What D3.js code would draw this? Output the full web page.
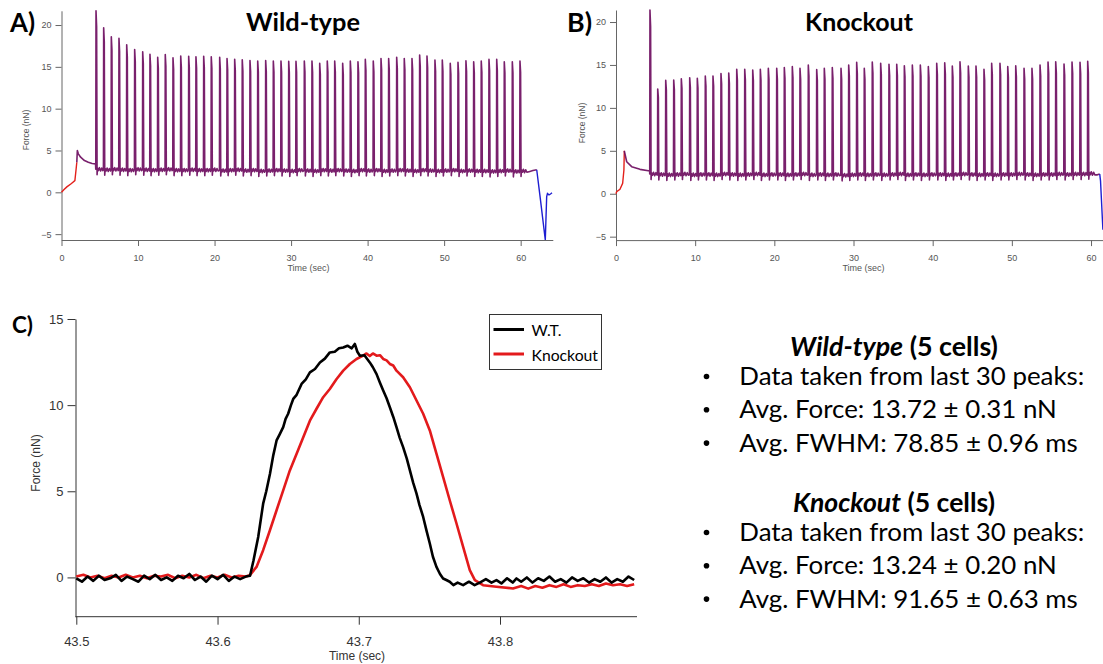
<!DOCTYPE html>
<html>
<head>
<meta charset="utf-8">
<script src="https://cdn.jsdelivr.net/npm/d3@7"></script>
<style>
  body { margin: 0; background: #fff; }
  svg { display: block; }
</style>
</head>
<body>
<svg id="fig" width="1103" height="664"></svg>
<script>
// ---------- Panel A (wild-type) : paced contraction trace ----------
// stimulus peak times (s) and peak force (nN) for each beat
const peakTimesA = [4.51,5.51,6.51,7.51,8.52,9.56,10.61,11.56,12.57,13.56,14.57,15.58,16.62,17.57,
  18.58,19.57,20.67,21.63,22.63,23.62,24.63,25.64,26.68,27.68,28.68,29.69,30.64,
  31.73,32.73,33.74,34.73,35.70,36.74,37.74,38.74,39.70,40.74,41.75,42.75,43.80,44.79,
  45.80,46.80,47.76,48.80,49.76,50.80,51.81,52.85,53.86,54.85,55.86,56.87,57.86,58.91,59.91];
const peakForceA = [21.7,19.68,18.6,18.4,17.65,17.06,16.8,16.5,16.15,16.46,16.07,16.3,16.27,16.2,
  16.27,16.2,16.15,16.0,15.9,15.85,15.75,15.7,15.75,15.7,15.7,15.65,15.65,
  15.69,15.69,15.41,15.69,15.69,15.41,15.69,15.61,15.89,15.69,16.0,16.0,16.14,16.0,
  16.0,16.41,16.29,15.81,15.81,15.41,15.53,15.73,15.61,15.69,15.89,15.89,15.61,15.61,15.69];
// resting force between beats (nN)
const restForceA = [2.6,2.55,2.6,2.55,2.5,2.6,2.55,2.5,2.55,2.6,2.5,2.5,2.55,2.5,
  2.5,2.55,2.45,2.5,2.55,2.45,2.5,2.4,2.45,2.5,2.45,2.4,2.5,2.45,
  2.4,2.5,2.45,2.5,2.45,2.4,2.5,2.45,2.5,2.4,2.45,2.5,2.45,2.4,
  2.5,2.45,2.4,2.45,2.5,2.4,2.45,2.4,2.4,2.35,2.4,2.45,2.35,2.4];
// approach phase (red), pre-stimulus hold (purple), trailing rest and release (blue)
const approachA = [[0,0],[0.3,0.3],[0.7,0.65],[1.3,1.05],[1.75,1.4],[1.9,2.7],[2.0,3.6]];
const holdA = [[2.0,3.6],[2.07,5.0],[2.2,4.6],[2.5,4.2],[3.0,3.8],[3.5,3.6],[4.0,3.45],[4.45,3.4]];
const tailA = [[61.2,2.5],[61.6,2.6],[62.1,2.7]];
const releaseA = [[62.1,2.7],[62.6,-1.0],[63.22,-5.7],[63.4,-0.5],[63.5,-0.15],[63.7,-0.3],[63.9,-0.2],[64.1,-0.05]];

// ---------- Panel B (knockout) ----------
const peakTimesB = [4.29,5.27,6.28,7.29,8.25,9.31,10.27,11.28,12.25,13.26,14.24,15.25,16.26,17.27,
  18.23,19.24,20.30,21.26,22.27,23.24,24.29,25.35,26.31,27.32,28.42,29.39,30.40,
  31.36,32.37,33.43,34.48,35.46,36.42,37.43,38.44,39.45,40.51,41.52,42.48,43.45,44.50,
  45.47,46.48,47.45,48.50,49.48,50.49,51.54,52.54,53.56,54.57,55.54,56.59,57.60,58.61,59.58];
const peakForceB = [21.4,12.2,13.2,13.25,13.4,13.5,13.45,13.7,13.7,14.0,14.05,14.5,14.5,14.4,
  14.5,14.6,14.6,14.7,14.8,14.6,15.0,14.45,14.6,14.7,14.6,15.0,15.3,
  14.6,15.34,15.19,15.07,15.07,14.91,14.99,14.99,14.8,15.19,15.26,14.87,15.38,14.87,
  14.87,14.49,15.19,15.19,14.8,14.91,14.6,14.6,14.99,15.34,15.38,15.11,15.34,15.3,15.42];
const restForceB = [2.15,2.1,2.05,2.1,2.15,2.05,2.1,2.1,2.05,2.15,2.1,2.05,2.1,2.15,
  2.05,2.1,2.1,2.05,2.1,2.15,2.05,2.1,2.05,2.1,2.0,2.05,2.1,2.05,
  2.1,2.05,2.1,2.15,2.05,2.1,2.05,2.1,2.1,2.05,2.1,2.15,2.1,2.05,
  2.1,2.05,2.1,2.1,2.15,2.1,2.05,2.1,2.1,2.15,2.1,2.15,2.15,2.2];
const approachB = [[0,0],[0.08,0.23],[0.5,0.51],[0.84,1.21],[1.0,2.76],[1.05,5.0]];
const holdB = [[1.05,5.0],[1.35,3.73],[1.98,3.15],[3.03,2.84],[4.08,2.68],[4.25,2.65]];
const tailB = [[60.8,2.2],[61.1,2.3]];
const releaseB = [[61.1,2.3],[61.2,1.5],[61.5,-4.2]];

// typical shape of one beat around its peak: [time offset (s), force offset from rest (nN)]
const beatLead = [-0.03, 0.15];
const beatFall = [0.08, 0.9];          // time offset, fraction of the peak height
const beatRelax = [[0.14,-0.5],[0.2,0.3],[0.32,0.0],[0.45,0.35],[0.6,-0.05],[0.75,0.3],[0.9,0.0]];

// ---------- Panel C : single twitch, 43.5 - 43.9 s ----------
const twitchWT = [
  [43.500,-0.05],[43.504,-0.25],[43.508,0.05],[43.512,-0.2],[43.516,0.1],[43.520,-0.15],[43.524,-0.05],
  [43.528,0.15],[43.532,-0.2],[43.536,0.05],[43.540,-0.1],[43.544,-0.25],[43.548,0.1],[43.552,-0.1],
  [43.556,0.15],[43.560,-0.15],[43.564,0.0],[43.568,-0.2],[43.572,0.1],[43.576,-0.05],[43.580,0.2],
  [43.584,-0.15],[43.588,0.05],[43.592,-0.25],[43.596,0.1],[43.600,-0.1],[43.604,0.15],[43.608,-0.2],
  [43.612,0.05],[43.616,-0.1],[43.620,0.05],[43.623,0.1],
  [43.6255,1.0],[43.6288,2.35],[43.6323,4.28],[43.6345,5.0],[43.6371,6.0],[43.6395,7.1],[43.6418,7.95],
  [43.6440,8.3],[43.6465,8.72],[43.6482,9.2],[43.6500,9.5],[43.6520,10.0],[43.6536,10.36],[43.6560,10.6],
  [43.6595,11.23],[43.6625,11.5],[43.6654,11.9],[43.6690,12.1],[43.6725,12.48],[43.6760,12.7],
  [43.6795,13.06],[43.6830,13.1],[43.6860,13.3],[43.6890,13.35],[43.6920,13.45],[43.6950,13.3],
  [43.6972,13.55],[43.6990,13.1],[43.7008,12.87],[43.7040,12.9],[43.7078,12.48],[43.7100,12.2],
  [43.7126,11.8],[43.7150,11.3],[43.7173,10.85],[43.7197,10.4],[43.7220,9.88],[43.7245,9.3],
  [43.7267,8.72],[43.7290,8.1],[43.7314,7.56],[43.7340,6.9],[43.7362,6.21],[43.7385,5.5],[43.7409,4.86],
  [43.7430,4.2],[43.7456,3.51],[43.7480,2.7],[43.7503,1.97],[43.7525,1.2],[43.7550,0.61],[43.7575,0.2],
  [43.7597,-0.06],[43.7620,-0.15],[43.7644,-0.25],[43.7670,-0.45],[43.7700,-0.3],[43.7739,-0.45],
  [43.7780,-0.25],[43.7820,-0.45],[43.7857,-0.3],[43.7900,-0.1],[43.7940,-0.3],[43.7975,-0.16],
  [43.8010,-0.35],[43.8050,-0.05],[43.8090,-0.3],[43.8117,-0.06],[43.8150,-0.25],[43.819,0.0],
  [43.823,-0.3],[43.827,-0.05],[43.831,-0.2],[43.835,0.05],[43.839,-0.25],[43.843,-0.1],[43.847,-0.3],
  [43.851,0.0],[43.855,-0.2],[43.859,-0.05],[43.863,-0.3],[43.867,-0.1],[43.871,-0.25],[43.875,0.0],
  [43.879,-0.3],[43.883,-0.1],[43.887,-0.25],[43.891,0.05],[43.895,-0.15]];
const twitchKO = [
  [43.500,0.05],[43.505,0.15],[43.510,0.0],[43.515,0.1],[43.520,-0.05],[43.525,0.1],[43.530,0.0],
  [43.535,0.15],[43.540,0.0],[43.545,0.1],[43.550,-0.05],[43.555,0.1],[43.560,0.05],[43.565,0.15],
  [43.570,-0.05],[43.575,0.1],[43.580,0.0],[43.585,0.15],[43.590,-0.05],[43.595,0.1],[43.600,0.0],
  [43.605,0.15],[43.610,0.0],[43.615,0.1],[43.620,0.05],[43.6229,0.13],
  [43.6276,0.61],[43.6323,1.58],[43.6371,2.74],[43.6418,3.9],[43.6465,5.05],[43.6512,6.21],
  [43.6560,7.18],[43.6607,8.14],[43.6654,9.1],[43.6701,9.79],[43.6748,10.46],[43.6795,10.94],
  [43.6843,11.52],[43.6890,12.0],[43.6937,12.39],[43.6984,12.68],[43.7031,12.87],[43.7055,13.0],
  [43.7078,12.85],[43.7100,13.0],[43.7126,12.87],[43.7150,12.9],[43.7173,12.68],[43.7197,12.6],
  [43.7220,12.39],[43.7244,12.3],[43.7267,12.0],[43.7314,11.62],[43.7362,11.04],[43.7409,10.27],
  [43.7456,9.5],[43.7503,8.53],[43.7550,7.18],[43.7597,5.83],[43.7644,4.48],[43.7692,3.13],
  [43.7739,1.77],[43.7786,0.42],[43.7822,-0.16],[43.7880,-0.45],[43.7975,-0.54],[43.8092,-0.64],
  [43.815,-0.5],[43.820,-0.65],[43.825,-0.5],[43.830,-0.6],[43.835,-0.45],[43.840,-0.55],[43.845,-0.4],
  [43.850,-0.55],[43.855,-0.45],[43.860,-0.5],[43.865,-0.4],[43.870,-0.5],[43.875,-0.35],[43.880,-0.45],
  [43.885,-0.4],[43.890,-0.5],[43.895,-0.4]];

// tick values
const ticksTrace = [0,10,20,30,40,50,60];
const ticksForce = [-5,0,5,10,15,20];
const ticksTwitchT = [43.5,43.6,43.7,43.8];
const ticksTwitchF = [0,5,10,15];

// legend and summary text
const legendItems = [["W.T.","#000000"],["Knockout","#e31a1c"]];
const summary = [
  {group:"Wild-type", cells:"(5 cells)", lines:["Data taken from last 30 peaks:","Avg. Force: 13.72 \u00B1 0.31 nN","Avg. FWHM: 78.85 \u00B1 0.96 ms"]},
  {group:"Knockout", cells:"(5 cells)", lines:["Data taken from last 30 peaks:","Avg. Force: 13.24 \u00B1 0.20 nN","Avg. FWHM: 91.65 \u00B1 0.63 ms"]}
];

// ---------- drawing ----------
const svg = d3.select("#fig");
const AXIS_FONT = "'Liberation Sans', Arial, sans-serif";
const TEXT_FONT = "Lato, 'Open Sans', sans-serif";
const PURPLE = "#6e0d5f", RED = "#e3201b", BLUE = "#1e1ed2";

function fitWidth(sel, w) {
  const len = sel.node().getComputedTextLength();
  const fs = parseFloat(sel.attr("font-size"));
  sel.attr("font-size", fs * w / len);
  return fs * w / len;
}

function buildBeats(times, peaks, rest) {
  const pts = [];
  times.forEach((t, i) => {
    const b = rest[i], h = peaks[i];
    pts.push([t + beatLead[0], b + beatLead[1]]);
    pts.push([t, h]);
    pts.push([t + beatFall[0], b + (h - b) * beatFall[1]]);
    beatRelax.forEach(([dt, dv]) => pts.push([t + dt, b + dv]));
  });
  return pts;
}

function tracePanel(opt) {
  const g = svg.append("g");
  const x = d3.scaleLinear().domain(opt.xDomain).range(opt.xRange);
  const y = d3.scaleLinear().domain(opt.yDomain).range(opt.yRange);
  const y0 = opt.yRange[0];

  const ax = g.append("g").attr("transform", `translate(0,${y0})`)
    .call(d3.axisBottom(x).tickValues(ticksTrace).tickSize(6).tickSizeOuter(0).tickPadding(9));
  const ay = g.append("g").attr("transform", `translate(${opt.xRange[0]},0)`)
    .call(d3.axisLeft(y).tickValues(ticksForce).tickSize(6).tickSizeOuter(0).tickPadding(4));
  [ax, ay].forEach(a => {
    a.select(".domain").attr("stroke", "#666");
    a.selectAll(".tick line").attr("stroke", "#666");
    a.selectAll(".tick text").attr("fill", "#555").attr("font-size", 9).attr("font-family", AXIS_FONT);
  });

  g.append("text").attr("x", opt.timeLabelX).attr("y", 271).attr("text-anchor", "middle")
    .attr("font-family", AXIS_FONT).attr("font-size", 9).attr("fill", "#555").text("Time (sec)");
  g.append("text").attr("transform", `translate(${opt.forceLabelX},${opt.forceLabelY}) rotate(-90)`)
    .attr("text-anchor", "middle").attr("font-family", AXIS_FONT).attr("font-size", 8.5)
    .attr("fill", "#555").text("Force (nN)");

  const line = d3.line().x(d => x(d[0])).y(d => y(d[1]));
  const main = opt.hold.concat(buildBeats(opt.times, opt.peaks, opt.rest), opt.tail);
  g.append("path").attr("d", line(opt.approach)).attr("fill", "none").attr("stroke", RED).attr("stroke-width", 1.4);
  g.append("path").attr("d", line(main)).attr("fill", "none").attr("stroke", PURPLE)
    .attr("stroke-width", 1.6).attr("stroke-linejoin", "round").attr("stroke-opacity", 0.92);
  g.append("path").attr("d", line(opt.release)).attr("fill", "none").attr("stroke", BLUE).attr("stroke-width", 1.4);

  // panel letter and title
  const letter = svg.append("text").attr("x", opt.letterX).attr("y", 31.5)
    .attr("font-family", TEXT_FONT).attr("font-weight", 700).attr("font-size", 22).attr("fill", "#000").text(opt.letter);
  fitWidth(letter, 25);
  const title = svg.append("text").attr("x", opt.titleX).attr("y", 30.5).attr("text-anchor", "middle")
    .attr("font-family", TEXT_FONT).attr("font-weight", 700).attr("font-size", 22).attr("fill", "#000").text(opt.title);
  fitWidth(title, opt.titleW);
}

tracePanel({
  xDomain: [0, 64.2], xRange: [61.5, 552.8], yDomain: [-5.7, 21.7], yRange: [240, 10.8],
  times: peakTimesA, peaks: peakForceA, rest: restForceA,
  approach: approachA, hold: holdA, tail: tailA, release: releaseA,
  timeLabelX: 308.5, forceLabelX: 29, forceLabelY: 130,
  letter: "A)", letterX: 10, title: "Wild-type", titleX: 303, titleW: 114
});
tracePanel({
  xDomain: [0, 61.5], xRange: [616, 1102.9], yDomain: [-5.4, 21.4], yRange: [240.1, 10],
  times: peakTimesB, peaks: peakForceB, rest: restForceB,
  approach: approachB, hold: holdB, tail: tailB, release: releaseB,
  timeLabelX: 863.5, forceLabelX: 585, forceLabelY: 123,
  letter: "B)", letterX: 567, title: "Knockout", titleX: 859, titleW: 108
});

// ---------- Panel C ----------
{
  const g = svg.append("g");
  const x = d3.scaleLinear().domain([43.5, 43.897]).range([76.3, 637]);
  const y = d3.scaleLinear().domain([-2.28, 15]).range([616.7, 319]);
  const ax = g.append("g").attr("transform", "translate(0,616.7)")
    .call(d3.axisBottom(x).tickValues(ticksTwitchT).tickFormat(d3.format(".1f"))
      .tickSize(8).tickSizeOuter(0).tickPadding(12));
  ax.select(".domain").attr("d", "M75.5,0H637");
  const ay = g.append("g").attr("transform", "translate(75.5,0)")
    .call(d3.axisLeft(y).tickValues(ticksTwitchF).tickSize(8).tickSizeOuter(0).tickPadding(4));
  [ax, ay].forEach(a => {
    a.select(".domain").attr("stroke", "#333");
    a.selectAll(".tick line").attr("stroke", "#333");
    a.selectAll(".tick text").attr("fill", "#333").attr("font-size", 13).attr("font-family", AXIS_FONT);
  });
  g.append("text").attr("x", 357).attr("y", 660).attr("text-anchor", "middle")
    .attr("font-family", AXIS_FONT).attr("font-size", 12).attr("fill", "#333").text("Time (sec)");
  g.append("text").attr("transform", "translate(40,463) rotate(-90)").attr("text-anchor", "middle")
    .attr("font-family", AXIS_FONT).attr("font-size", 12).attr("fill", "#333").text("Force (nN)");

  const line = d3.line().x(d => x(d[0])).y(d => y(d[1]));
  g.append("path").attr("d", line(twitchKO)).attr("fill", "none").attr("stroke", "#e31a1c")
    .attr("stroke-width", 2.6).attr("stroke-linejoin", "round");
  g.append("path").attr("d", line(twitchWT)).attr("fill", "none").attr("stroke", "#000")
    .attr("stroke-width", 2.6).attr("stroke-linejoin", "round");

  const letter = svg.append("text").attr("x", 12).attr("y", 333)
    .attr("font-family", TEXT_FONT).attr("font-weight", 700).attr("font-size", 22).attr("fill", "#000").text("C)");
  fitWidth(letter, 21);

  // legend
  const lg = svg.append("g");
  lg.append("rect").attr("x", 489.5).attr("y", 314.5).attr("width", 112).attr("height", 55)
    .attr("fill", "#fff").attr("stroke", "#333").attr("stroke-width", 1);
  let legendFs = null;
  legendItems.forEach(([name, col], i) => {
    const yy = 329.5 + i * 24.5;
    lg.append("line").attr("x1", 493.5).attr("x2", 524).attr("y1", yy).attr("y2", yy)
      .attr("stroke", col).attr("stroke-width", 3);
    const t = lg.append("text").attr("x", 531.5).attr("y", yy + 6.5).attr("font-family", TEXT_FONT)
      .attr("font-size", 15).attr("fill", "#000").text(name);
    if (name === "Knockout") legendFs = fitWidth(t, 66.5);
  });
  lg.selectAll("text").attr("font-size", legendFs);
}

// ---------- summary text ----------
{
  const g = svg.append("g");
  const probe = g.append("text").attr("font-family", TEXT_FONT).attr("font-size", 24).text(summary[0].lines[0]);
  const bodyFs = fitWidth(probe, 345);
  probe.remove();
  const headerBase = [355.7, 511.7];
  const headerW = [208, 202];
  summary.forEach((s, k) => {
    const h = g.append("text").attr("x", 894).attr("y", headerBase[k]).attr("text-anchor", "middle")
      .attr("font-family", TEXT_FONT).attr("font-weight", 700).attr("font-size", 24).attr("fill", "#000");
    h.append("tspan").attr("font-style", "italic").text(s.group);
    h.append("tspan").text(" " + s.cells);
    fitWidth(h, headerW[k]);
    s.lines.forEach((ln, j) => {
      const yy = headerBase[k] + 29.3 + j * 33.3;
      g.append("circle").attr("cx", 706.5).attr("cy", yy - 8.5).attr("r", 2.8).attr("fill", "#000");
      g.append("text").attr("x", 739.3).attr("y", yy)
        .attr("font-family", TEXT_FONT).attr("font-size", bodyFs).attr("fill", "#000").text(ln);
    });
  });
}
</script>
